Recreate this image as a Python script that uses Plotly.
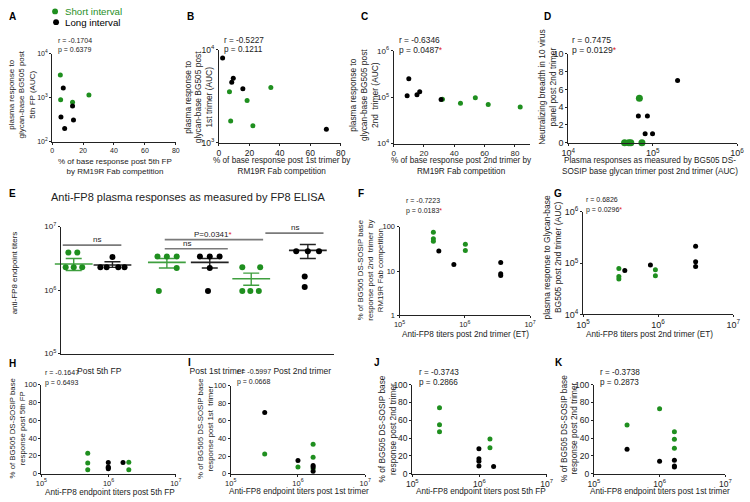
import numpy as np
import plotly.graph_objects as go

W, H = 750, 502
GREEN = '#1f8f1f'
GREEN_LINE = '#3f9f3f'
BLACK = '#000000'
AXIS = '#222222'
GRAY = '#7a7a7a'
FONT = 'Liberation Sans, Arial, sans-serif'

# ---------------- data ----------------
# A: % base response post 5th FP vs plasma response (AUC)
A_short_x = [5.3, 5.5, 13.2, 23.8]
A_short_y = [3300, 900, 790, 1150]
A_long_x = [7.2, 5.7, 8.1, 13.2, 13.8]
A_long_y = [1670, 365, 200, 650, 310]
# B
B_short_x = [6.9, 18.5, 34.1, 7.7, 22.3]
B_short_y = [3540, 2850, 3930, 1710, 1520]
B_long_x = [2.4, 8.4, 9.4, 15.7, 70.6]
B_long_y = [8200, 4480, 4940, 3810, 1400]
# C
C_short_x = [32.2, 44.1, 53.9, 62.4, 83.5]
C_short_y = [91000, 74000, 98000, 70000, 62000]
C_long_x = [10.0, 8.9, 15.4, 17.2, 31.3]
C_long_y = [250000, 108000, 113000, 132000, 90000]
# D
D_short_x = [46400, 52000, 55000, 74500, 69500]
D_short_y = [0, 0, 0, 0, 5]
D_long_x = [197000, 67600, 86500, 81300, 99500]
D_long_y = [7, 3, 3, 1, 1]
# E: anti-FP8 titers per time point (Post 5th FP, Post 1st trimer, Post 2nd trimer)
E_categories = ['Post 5th FP', 'Post 1st trimer', 'Post 2nd trimer']
E_tick_pos = [0.755, 3.387, 5.295]
E_short_pos = [0.185, 2.268, 4.154]
E_long_pos = [1.051, 3.227, 5.42]
E_short_vals = [[3.9e6, 3.9e6, 2.28e6, 2.28e6, 2.28e6],
                [3.37e6, 3.37e6, 3.37e6, 2.23e6, 9.7e5],
                [2.28e6, 2.28e6, 9.7e5, 9.7e5, 9.7e5]]
E_short_jit = [[-0.12, 0.08, -0.18, 0.0, 0.19],
               [-0.21, 0.0, 0.22, 0.22, -0.18],
               [-0.2, 0.2, -0.2, -0.02, 0.17]]
E_long_vals = [[3.33e6, 2.28e6, 2.28e6, 2.28e6, 2.28e6],
               [3.37e6, 3.37e6, 3.37e6, 2.23e6, 9.7e5],
               [4.1e6, 4.1e6, 4.1e6, 1.64e6, 1.12e6]]
E_long_jit = [[0.0, -0.27, -0.13, 0.13, 0.27],
              [-0.22, 0.0, 0.22, 0.0, -0.04],
              [-0.26, 0.0, 0.25, -0.07, -0.07]]
E_short_mean = [2.57e6, 2.73e6, 1.51e6]
E_short_hi = [3.14e6, 3.14e6, 1.85e6]
E_short_lo = [2.03e6, 2.23e6, 1.19e6]
E_long_mean = [2.48e6, 2.73e6, 4.23e6]
E_long_hi = [2.8e6, 3.14e6, 5.22e6]
E_long_lo = [2.28e6, 2.23e6, 3.14e6]
E_sig_x0 = [-0.06, 2.22, 2.22, 4.47]
E_sig_x1 = [1.25, 3.63, 4.42, 5.77]
E_sig_y = [5.1e6, 4.48e6, 6.24e6, 7.9e6]
E_sig_text = ['ns', 'ns', 'P=0.0341<span style="color:#e02020">*</span>', 'ns']
E_sig_tx = [0.70, 2.71, 3.30, 5.13]
# F
F_short_x = [3.3e5, 3.3e5, 3.3e5, 1.02e6, 1.02e6]
F_short_y = [75, 53.6, 47, 40, 29]
F_long_x = [4.0e5, 6.8e5, 3.55e6, 3.55e6, 3.55e6]
F_long_y = [28.3, 14.1, 15.6, 8.7, 7.9]
# G
G_short_x = [3.0e5, 3.0e5, 3.0e5, 9.2e5, 9.2e5]
G_short_y = [7.9e4, 5.5e4, 4.9e4, 7.5e4, 5.7e4]
G_long_x = [3.6e5, 7.9e5, 3.16e6, 3.16e6, 3.16e6]
G_long_y = [7.2e4, 9.2e4, 2.15e5, 1.07e5, 8.6e4]
# H
H_short_x = [4.9e5, 4.9e5, 4.9e5, 2.0e6, 2.0e6]
H_short_y = [23, 12, 4.4, 12.8, 4.4]
H_long_x = [9.9e5, 9.9e5, 9.9e5, 9.9e5, 1.64e6]
H_long_y = [12.5, 7.3, 5.5, 6.5, 12.5]
# I
I_short_x = [3.2e5, 1.0e6, 1.68e6, 1.68e6, 1.68e6]
I_short_y = [22.2, 7.4, 33.3, 18.5, 5.6]
I_long_x = [3.2e5, 1.0e6, 1.68e6, 1.68e6, 1.68e6]
I_long_y = [69.6, 14.8, 9.3, 7.4, 2.6]
# J
J_short_x = [2.54e5, 2.54e5, 2.54e5, 1.43e6, 1.43e6]
J_short_y = [74, 55, 47, 39, 29]
J_long_x = [9.8e5, 9.8e5, 9.8e5, 9.8e5, 1.62e6]
J_long_y = [28, 16.6, 14, 8.5, 8]
# K
K_short_x = [3.2e5, 1.0e6, 1.68e6, 1.68e6, 1.68e6]
K_short_y = [54.6, 73, 47.2, 38.7, 28.4]
K_long_x = [3.2e5, 1.0e6, 1.68e6, 1.68e6, 1.68e6]
K_long_y = [27.3, 14, 15.1, 8.5, 7.4]

stats = {
    'A': ('-0.1704', '0.6379', False), 'B': ('-0.5227', '0.1211', False),
    'C': ('-0.6346', '0.0487', True), 'D': ('0.7475', '0.0129', True),
    'F': ('-0.7223', '0.0183', True), 'G': ('0.6826', '0.0296', True),
    'H': ('-0.1647', '0.6493', False), 'I': ('-0.5997', '0.0668', False),
    'J': ('-0.3743', '0.2866', False), 'K': ('-0.3738', '0.2873', False),
}

# ---------------- helpers ----------------
def sup(e):
    return f'10<sup>{e}</sup>'

def xdom(a, b):
    return [a / W, b / W]

def ydom(top, bot):
    return [1 - bot / H, 1 - top / H]

layout_axes = {}
annotations = []
shapes = []


def make_axis(domain, rng, typ, tickvals, ticktext, size, anchor):
    return dict(domain=domain, range=rng, type=typ, showline=True, linecolor=AXIS,
                linewidth=1, showgrid=False, zeroline=False, ticks='outside', ticklen=2,
                tickwidth=1, tickcolor=AXIS, tickmode='array', tickvals=tickvals,
                ticktext=ticktext, tickfont=dict(size=size, color='#222', family=FONT),
                anchor=anchor, fixedrange=True)


def panel(n, xd, yd, xspec, yspec, size):
    xs = '' if n == 1 else str(n)
    layout_axes['xaxis' + xs] = make_axis(xdom(*xd), xspec[1], xspec[0], xspec[2], xspec[3], size, 'y' + xs)
    layout_axes['yaxis' + xs] = make_axis(ydom(*yd), yspec[1], yspec[0], yspec[2], yspec[3], size, 'x' + xs)
    return 'x' + xs, 'y' + xs


fig = go.Figure()


def dots(ax, x, y, color, size=5):
    fig.add_trace(go.Scatter(x=x, y=y, mode='markers', xaxis=ax[0], yaxis=ax[1],
                             marker=dict(color=color, size=size, line=dict(width=0)),
                             showlegend=False, cliponaxis=False, hoverinfo='skip'))


def ann(text, x, y, size, xanchor='left', yanchor='middle', angle=0, color='#222', bold=False):
    if bold:
        text = f'<b>{text}</b>'
    annotations.append(dict(text=text, x=x / W, y=1 - y / H, xref='paper', yref='paper',
                            xanchor=xanchor, yanchor=yanchor, textangle=angle, showarrow=False,
                            font=dict(size=size, color=color, family=FONT)))


def stat(key, x, y, size, dy):
    r, p, sig = stats[key]
    star = '<span style="color:#e02020">*</span>' if sig else ''
    ann(f'r = {r}', x, y, size)
    ann(f'p = {p}{star}', x, y + dy, size)


lin80 = [0, 20, 40, 60, 80]
lin100 = [0, 20, 40, 60, 80, 100]
log57 = ('log', [5, 7], [1e5, 1e6, 1e7], [sup(5), sup(6), sup(7)])

# A
axA = panel(1, (46, 172), (48, 138), ('linear', [0, 80], lin80, [str(v) for v in lin80]),
            ('log', [2, 4], [1e2, 1e3, 1e4], [sup(2), sup(3), sup(4)]), 7)
dots(axA, A_short_x, A_short_y, GREEN)
dots(axA, A_long_x, A_long_y, BLACK)
# B
axB = panel(2, (216, 340), (44, 139), ('linear', [0, 80], lin80, [str(v) for v in lin80]),
            ('log', [3, 4], [1e3, 1e4], [sup(3), sup(4)]), 8.5)
dots(axB, B_short_x, B_short_y, GREEN)
dots(axB, B_long_x, B_long_y, BLACK)
# C
axC = panel(3, (394, 533), (45, 140), ('linear', [0, 90], lin80, [str(v) for v in lin80]),
            ('log', [4, 6], [1e4, 1e5, 1e6], [sup(4), sup(5), sup(6)]), 8)
dots(axC, C_short_x, C_short_y, GREEN)
dots(axC, C_long_x, C_long_y, BLACK)
# D
axD = panel(4, (572, 744), (48, 139), ('log', [4, 6], [1e4, 1e5, 1e6], [sup(4), sup(5), sup(6)]),
            ('linear', [0, 10], [0, 2, 4, 6, 8, 10], ['0', '2', '4', '6', '8', '10']), 9)
dots(axD, D_short_x, D_short_y, GREEN, 7)
dots(axD, D_long_x, D_long_y, BLACK)

# E
axE = panel(5, (55, 333), (225, 355), ('linear', [-0.1, 6], E_tick_pos, E_categories),
            log57, 8)
layout_axes['xaxis5'].update(showline=True, ticks='', ticklabelstandoff=9,
                             tickfont=dict(size=8.5, color='#222', family=FONT))
for pos, m, hi, lo, col in ((E_short_pos, E_short_mean, E_short_hi, E_short_lo, GREEN_LINE),
                            (E_long_pos, E_long_mean, E_long_hi, E_long_lo, '#222222')):
    fig.add_trace(go.Scatter(
        x=pos, y=m, mode='markers', xaxis=axE[0], yaxis=axE[1], showlegend=False,
        hoverinfo='skip', cliponaxis=False,
        marker=dict(symbol='line-ew', size=27, line=dict(color=col, width=1.6)),
        error_y=dict(type='data', symmetric=False,
                     array=[h - v for h, v in zip(hi, m)],
                     arrayminus=[v - l for v, l in zip(m, lo)],
                     color=col, thickness=1.4, width=8)))
for vals, jit, pos, col in ((E_short_vals, E_short_jit, E_short_pos, GREEN),
                            (E_long_vals, E_long_jit, E_long_pos, BLACK)):
    xs, ys = [], []
    for g in range(3):
        xs += [pos[g] + j for j in jit[g]]
        ys += vals[g]
    dots(axE, xs, ys, col, 6)
for x0, x1, y, t, tx in zip(E_sig_x0, E_sig_x1, E_sig_y, E_sig_text, E_sig_tx):
    fig.add_trace(go.Scatter(x=[x0, x1], y=[y, y], mode='lines', xaxis=axE[0], yaxis=axE[1],
                             line=dict(color=GRAY, width=1.6), showlegend=False,
                             hoverinfo='skip', cliponaxis=False))
    annotations.append(dict(text=t, x=tx, y=float(np.log10(y)), xref='x5', yref='y5',
                            xanchor='center', yanchor='bottom', showarrow=False, yshift=-1,
                            font=dict(size=8, color='#222', family=FONT)))

# F
axF = panel(6, (400, 533), (225, 316), log57,
            ('log', [0, 2], [1, 10, 100], ['1', '10', '100']), 7.5)
dots(axF, F_short_x, F_short_y, GREEN)
dots(axF, F_long_x, F_long_y, BLACK)
# G
axG = panel(7, (587, 740), (210, 315), log57,
            ('log', [4, 6], [1e4, 1e5, 1e6], [sup(4), sup(5), sup(6)]), 9)
dots(axG, G_short_x, G_short_y, GREEN)
dots(axG, G_long_x, G_long_y, BLACK)
# H-K
axH = panel(8, (35, 172), (387, 478), log57, ('linear', [0, 100], lin100, [str(v) for v in lin100]), 7.5)
dots(axH, H_short_x, H_short_y, GREEN)
dots(axH, H_long_x, H_long_y, BLACK)
axI = panel(9, (228, 365), (388, 478), log57, ('linear', [0, 100], lin100, [str(v) for v in lin100]), 7.5)
dots(axI, I_short_x, I_short_y, GREEN)
dots(axI, I_long_x, I_long_y, BLACK)
axJ = panel(10, (413, 550), (387, 478), log57, ('linear', [0, 100], lin100, [str(v) for v in lin100]), 8.5)
dots(axJ, J_short_x, J_short_y, GREEN)
dots(axJ, J_long_x, J_long_y, BLACK)
axK = panel(11, (598, 732), (387, 478), log57, ('linear', [0, 100], lin100, [str(v) for v in lin100]), 8.5)
dots(axK, K_short_x, K_short_y, GREEN)
dots(axK, K_long_x, K_long_y, BLACK)

# ---------------- text ----------------
# panel letters
for letter, x, y in (('A', 6, 10), ('B', 187, 10), ('C', 364, 10), ('D', 551, 10),
                     ('E', 6, 191), ('F', 361, 191), ('G', 561, 191),
                     ('H', 6, 365), ('I', 186, 364), ('J', 377, 364), ('K', 562, 364)):
    ann(letter, x, y, 10, xanchor='center', bold=True, color='#000')

# legend
ann('Short interval', 57, 4.5, 9.7, color=GREEN)
ann('Long interval', 57, 15.5, 9.7, color='#000')
for cx, cy, col in ((49, 4.5, GREEN), (50, 15.5, BLACK)):
    shapes.append(dict(type='circle', xref='paper', yref='paper', x0=(cx - 3) / W, x1=(cx + 3) / W,
                       y0=1 - (cy + 3) / H, y1=1 - (cy - 3) / H, fillcolor=col, line=dict(width=0)))

# correlation statistics
stat('A', 50, 34, 7, 10)
stat('B', 219, 34, 8.2, 10)
stat('C', 397, 34, 8.4, 10)
stat('D', 574, 34, 8.6, 10)
stat('F', 405, 198, 7, 11)
stat('G', 588, 197, 7, 11)
stat('H', 37, 374, 7, 11)
stat('I', 232, 373, 7, 11)
stat('J', 418, 374, 8.2, 11)
stat('K', 602, 374, 8.2, 11)

# x-axis titles
for t, x, y, s in (
        ('% of base response post 5th FP<br>by RM19R Fab competition', 110, 163, 8),
        ('% of base response post 1st trimer by<br>RM19R Fab competition', 280, 163, 8.2),
        ('% of base response post 2nd trimer by<br>RM19R Fab competition', 463, 163, 8.2),
        ('Plasma responses as measured by BG505 DS-<br>SOSIP base glycan trimer post 2nd trimer (AUC)', 655, 163, 8.2),
        ('Anti-FP8 titers post 2nd trimer (ET)', 467, 336, 8.2),
        ('Anti-FP8 titers post 2nd trimer (ET)', 655, 336, 8.2),
        ('Anti-FP8 endpoint titers post 5th FP', 105, 497, 8.2),
        ('Anti-FP8 endpoint titers post 1st trimer', 298, 496.5, 8.2),
        ('Anti-FP8 endpoint titers post 5th FP', 483, 496.5, 8.2),
        ('Anti-FP8 endpoint titers post 1st trimer', 665, 496.5, 8.2)):
    ann(t, x, y, s, xanchor='center')

# y-axis titles (rotated)
for t, x, y, s in (
        ('plasma response to<br>glycan-base BG505 post<br>5th FP (AUC)', 15, 90, 8),
        ('plasma response to<br>glycan-base BG505 post<br>1st trimer (AUC)', 195, 92, 8.4),
        ('plasma response to<br>glycan-base BG505 post<br>2nd  trimer (AUC)', 364, 90, 8.4),
        ('Neutralizing breadth in 10 virus<br>panel post 2nd trimer', 550, 82, 8.4),
        ('anti-FP8 endpoint titers', 8, 272, 8),
        ('% of BG505 DS-SOSIP base<br>response post 2nd  trimer  by<br>RM19R Fab competition', 370, 270, 7.8),
        ('plasma response to Glycan-base<br>BG505 post 2nd trimer (AUC)', 556, 256, 8.5),
        ('% of BG505 DS-SOSIP base<br>response post 5th FP', 11, 432, 7.8),
        ('% of BG505 DS-SOSIP base<br>response post 1st  trimer', 202, 432, 7.8),
        ('% of BG505 DS-SOSIP base<br>response post 2nd trimer', 388, 432, 8.3),
        ('% of BG505 DS-SOSIP base<br>response post 2nd trimer', 573, 432, 8.3)):
    ann(t, x, y, s, xanchor='center', angle=-90)

# E title
ann('Anti-FP8 plasma responses as measured by FP8 ELISA', 185, 195, 11, xanchor='center')

fig.update_layout(width=W, height=H, margin=dict(l=0, r=0, t=0, b=0),
                  paper_bgcolor='white', plot_bgcolor='white', showlegend=False,
                  font=dict(family=FONT, color='#222'),
                  annotations=annotations, shapes=shapes, **layout_axes)

fig.write_html('out.html', config={'displayModeBar': False},
               post_script="document.body.style.margin='0';document.body.style.padding='0';")
